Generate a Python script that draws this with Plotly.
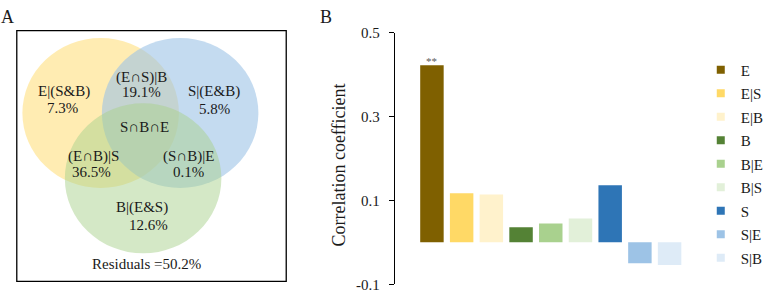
import plotly.graph_objects as go

# ---------------- data ----------------
categories = ["E", "E|S", "E|B", "B", "B|E", "B|S", "S", "S|E", "S|B"]
corr_values = [0.422, 0.117, 0.114, 0.036, 0.045, 0.057, 0.136, -0.050, -0.054]
bar_colors = ["#7F6000", "#FFD966", "#FFF2CC", "#548235", "#A9D18E", "#E2F0D9",
              "#2E75B6", "#9DC3E6", "#DEEBF7"]
significance = ["**", "", "", "", "", "", "", "", ""]
y_ticks = [0.5, 0.3, 0.1, -0.1]
y_tick_labels = ["0.5", "0.3", "0.1", "-0.1"]
y_title = "Correlation coefficient"

venn_labels = ["E|(S&B)", "(E∩S)|B", "S|(E&B)", "S∩B∩E", "(E∩B)|S", "(S∩B)|E", "B|(E&S)"]
venn_values = ["7.3%", "19.1%", "5.8%", "", "36.5%", "0.1%", "12.6%"]
residual_text = "Residuals =50.2%"

FONT = "Liberation Serif, Times New Roman, serif"
TXT = "#1a1a1a"
W, H = 769, 297

fig = go.Figure()

# ---------------- panel B: bars ----------------
for i, (cat, val, col) in enumerate(zip(categories, corr_values, bar_colors)):
    fig.add_trace(go.Bar(
        x=[i], y=[val], name=cat, marker=dict(color=col, line=dict(width=0)),
        width=0.79, showlegend=False, xaxis="x", yaxis="y",
    ))
    if significance[i]:
        fig.add_annotation(x=i, y=val, xref="x", yref="y", text=significance[i],
                           showarrow=False, yanchor="bottom", yshift=-4,
                           font=dict(family=FONT, size=11, color="#595959"))
# legend entries (small square swatches)
for cat, col in zip(categories, bar_colors):
    fig.add_trace(go.Scatter(
        x=[None], y=[None], mode="markers", name=cat, legendgroup=cat,
        marker=dict(symbol="square", size=8, color=col), xaxis="x", yaxis="y",
    ))

# ---------------- panel A: venn ----------------
circles = [  # (cx, cy, r, fill, opacity) in panel pixel units
    (102, 111, 79.3, "#FFD966", 0.5),
    (182.5, 111, 79.3, "#9DC3E6", 0.6),
    (145, 180, 79.3, "#A9D18E", 0.5),
]
shapes = []
for cx, cy, r, col, op in circles:
    shapes.append(dict(type="circle", xref="x2", yref="y2",
                       x0=cx - r, x1=cx + r, y0=cy - r, y1=cy + r,
                       fillcolor=col, opacity=op, line=dict(width=0), layer="below"))
shapes.append(dict(type="rect", xref="x2", yref="y2", x0=17, x1=290, y0=24, y1=289,
                   line=dict(color="black", width=1.3), fillcolor="rgba(0,0,0,0)"))

label_pos = [(65, 88), (143, 73), (217, 88), (146, 126), (95, 157), (191, 157), (144, 211)]
value_pos = [(63, 106), (143, 89), (217, 107), None, (93, 173), (191, 173), (150, 229)]
for lp, vp, lab, val in zip(label_pos, value_pos, venn_labels, venn_values):
    fig.add_annotation(x=lp[0], y=lp[1], xref="x2", yref="y2", text=lab, showarrow=False,
                       font=dict(family=FONT, size=15, color=TXT))
    if val:
        fig.add_annotation(x=vp[0], y=vp[1], xref="x2", yref="y2", text=val,
                           showarrow=False, font=dict(family=FONT, size=15, color=TXT))
fig.add_annotation(x=148, y=271, xref="x2", yref="y2", text=residual_text, showarrow=False,
                   font=dict(family=FONT, size=15, color=TXT))

# panel letters
fig.add_annotation(x=8 / W, y=1 - 10 / H, xref="paper", yref="paper", text="A",
                   showarrow=False, xanchor="center", yanchor="middle",
                   font=dict(family=FONT, size=18, color=TXT))
fig.add_annotation(x=330 / W, y=1 - 10 / H, xref="paper", yref="paper", text="B",
                   showarrow=False, xanchor="center", yanchor="middle",
                   font=dict(family=FONT, size=18, color=TXT))
# y-axis title (rotated)
fig.add_annotation(x=344 / W, y=1 - 166 / H, xref="paper", yref="paper", text=y_title,
                   showarrow=False, textangle=-90, xanchor="center", yanchor="middle",
                   font=dict(family=FONT, size=18, color=TXT))

fig.update_layout(
    width=W, height=H,
    margin=dict(l=0, r=0, t=0, b=0),
    paper_bgcolor="white", plot_bgcolor="rgba(0,0,0,0)",
    barmode="overlay",
    shapes=shapes,
    font=dict(family=FONT, size=15, color=TXT),
    xaxis=dict(domain=[400 / W, 700 / W], range=[-1.25, 8.717], visible=False,
               fixedrange=True),
    yaxis=dict(domain=[1 - 292 / H, 1 - 26 / H], range=[-0.1, 0.5],
               tickvals=y_ticks, ticktext=y_tick_labels, showgrid=False, zeroline=False,
               showline=True, linecolor="black", linewidth=1.2, ticks="outside",
               ticklen=5, tickwidth=1.2, tickcolor="black", ticklabelstandoff=6,
               ticklabeloverflow="allow",
               tickfont=dict(family=FONT, size=15, color=TXT), anchor="x"),
    xaxis2=dict(domain=[0, 300 / W], range=[0, 300], visible=False, anchor="y2"),
    yaxis2=dict(domain=[0, 1], range=[297, 0], visible=False, anchor="x2"),
    legend=dict(x=710 / W, y=1 - 48 / H, xanchor="left", yanchor="top",
                font=dict(family=FONT, size=15, color=TXT), tracegroupgap=1,
                bgcolor="rgba(0,0,0,0)", itemclick=False, itemdoubleclick=False),
    showlegend=True,
)

fig.write_html("out.html", config={"displayModeBar": False},
               post_script="document.body.style.margin='0';document.body.style.overflow='hidden';")
